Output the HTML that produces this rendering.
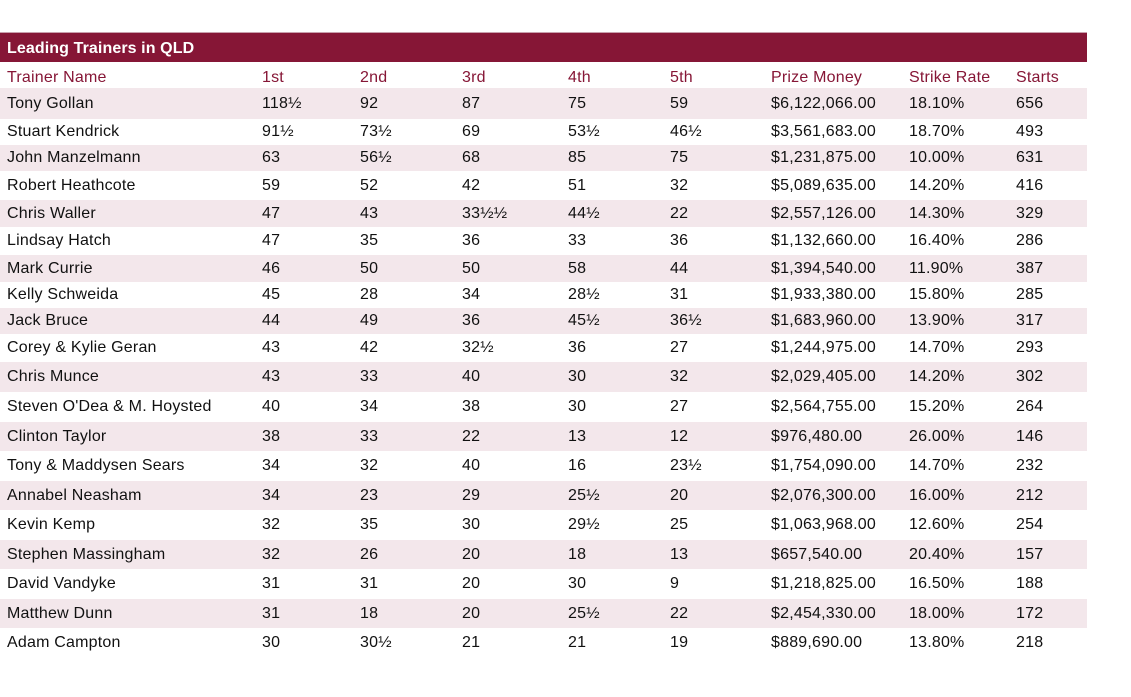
<!DOCTYPE html>
<html><head><meta charset="utf-8"><style>
html,body{margin:0;padding:0;background:#fff;}
body{width:1131px;height:697px;position:relative;overflow:hidden;font-family:"Liberation Sans",sans-serif;font-size:16px;letter-spacing:0.2px;color:#111;}
.bar{position:absolute;left:0;top:32px;width:1087px;height:30px;background:#861636;color:#fff;font-weight:bold;font-size:16px;letter-spacing:0.1px;line-height:31px;padding-left:7px;box-sizing:border-box;border-top:1px solid #c9a0ad;}
.row{position:absolute;left:0;width:1087px;}
.row.s{background:#f3e7eb;}
.row span{position:absolute;top:50%;transform:translateY(-50%);white-space:nowrap;}
.hd span{color:#861636;top:16px;}
.c0{left:7px}.c1{left:262px}.c2{left:360px}.c3{left:462px}.c4{left:568px}.c5{left:670px}.c6{left:771px}.c7{left:909px}.c8{left:1016px}
</style></head><body>
<div class="bar">Leading Trainers in QLD</div>
<div id="t"></div>
<script>
var rows=[
["Trainer Name","1st","2nd","3rd","4th","5th","Prize Money","Strike Rate","Starts"],
["Tony Gollan","118½","92","87","75","59","$6,122,066.00","18.10%","656"],
["Stuart Kendrick","91½","73½","69","53½","46½","$3,561,683.00","18.70%","493"],
["John Manzelmann","63","56½","68","85","75","$1,231,875.00","10.00%","631"],
["Robert Heathcote","59","52","42","51","32","$5,089,635.00","14.20%","416"],
["Chris Waller","47","43","33½½","44½","22","$2,557,126.00","14.30%","329"],
["Lindsay Hatch","47","35","36","33","36","$1,132,660.00","16.40%","286"],
["Mark Currie","46","50","50","58","44","$1,394,540.00","11.90%","387"],
["Kelly Schweida","45","28","34","28½","31","$1,933,380.00","15.80%","285"],
["Jack Bruce","44","49","36","45½","36½","$1,683,960.00","13.90%","317"],
["Corey & Kylie Geran","43","42","32½","36","27","$1,244,975.00","14.70%","293"],
["Chris Munce","43","33","40","30","32","$2,029,405.00","14.20%","302"],
["Steven O'Dea & M. Hoysted","40","34","38","30","27","$2,564,755.00","15.20%","264"],
["Clinton Taylor","38","33","22","13","12","$976,480.00","26.00%","146"],
["Tony & Maddysen Sears","34","32","40","16","23½","$1,754,090.00","14.70%","232"],
["Annabel Neasham","34","23","29","25½","20","$2,076,300.00","16.00%","212"],
["Kevin Kemp","32","35","30","29½","25","$1,063,968.00","12.60%","254"],
["Stephen Massingham","32","26","20","18","13","$657,540.00","20.40%","157"],
["David Vandyke","31","31","20","30","9","$1,218,825.00","16.50%","188"],
["Matthew Dunn","31","18","20","25½","22","$2,454,330.00","18.00%","172"],
["Adam Campton","30","30½","21","21","19","$889,690.00","13.80%","218"]];
var b=[62,88,119,145,171,200,227,255,282,308,334,362,392,422,451,481,510,540,569,599,628,657];
var h="";
for(var i=0;i<rows.length;i++){
 var cls="row"+(i==0?" hd":"")+(i%2==1?" s":"");
 h+='<div class="'+cls+'" style="top:'+b[i]+'px;height:'+(b[i+1]-b[i])+'px">';
 for(var j=0;j<9;j++){h+='<span class="c'+j+'">'+rows[i][j].replace(/&/g,"&amp;")+'</span>';}
 h+='</div>';
}
document.getElementById("t").innerHTML=h;
</script>
</body></html>
